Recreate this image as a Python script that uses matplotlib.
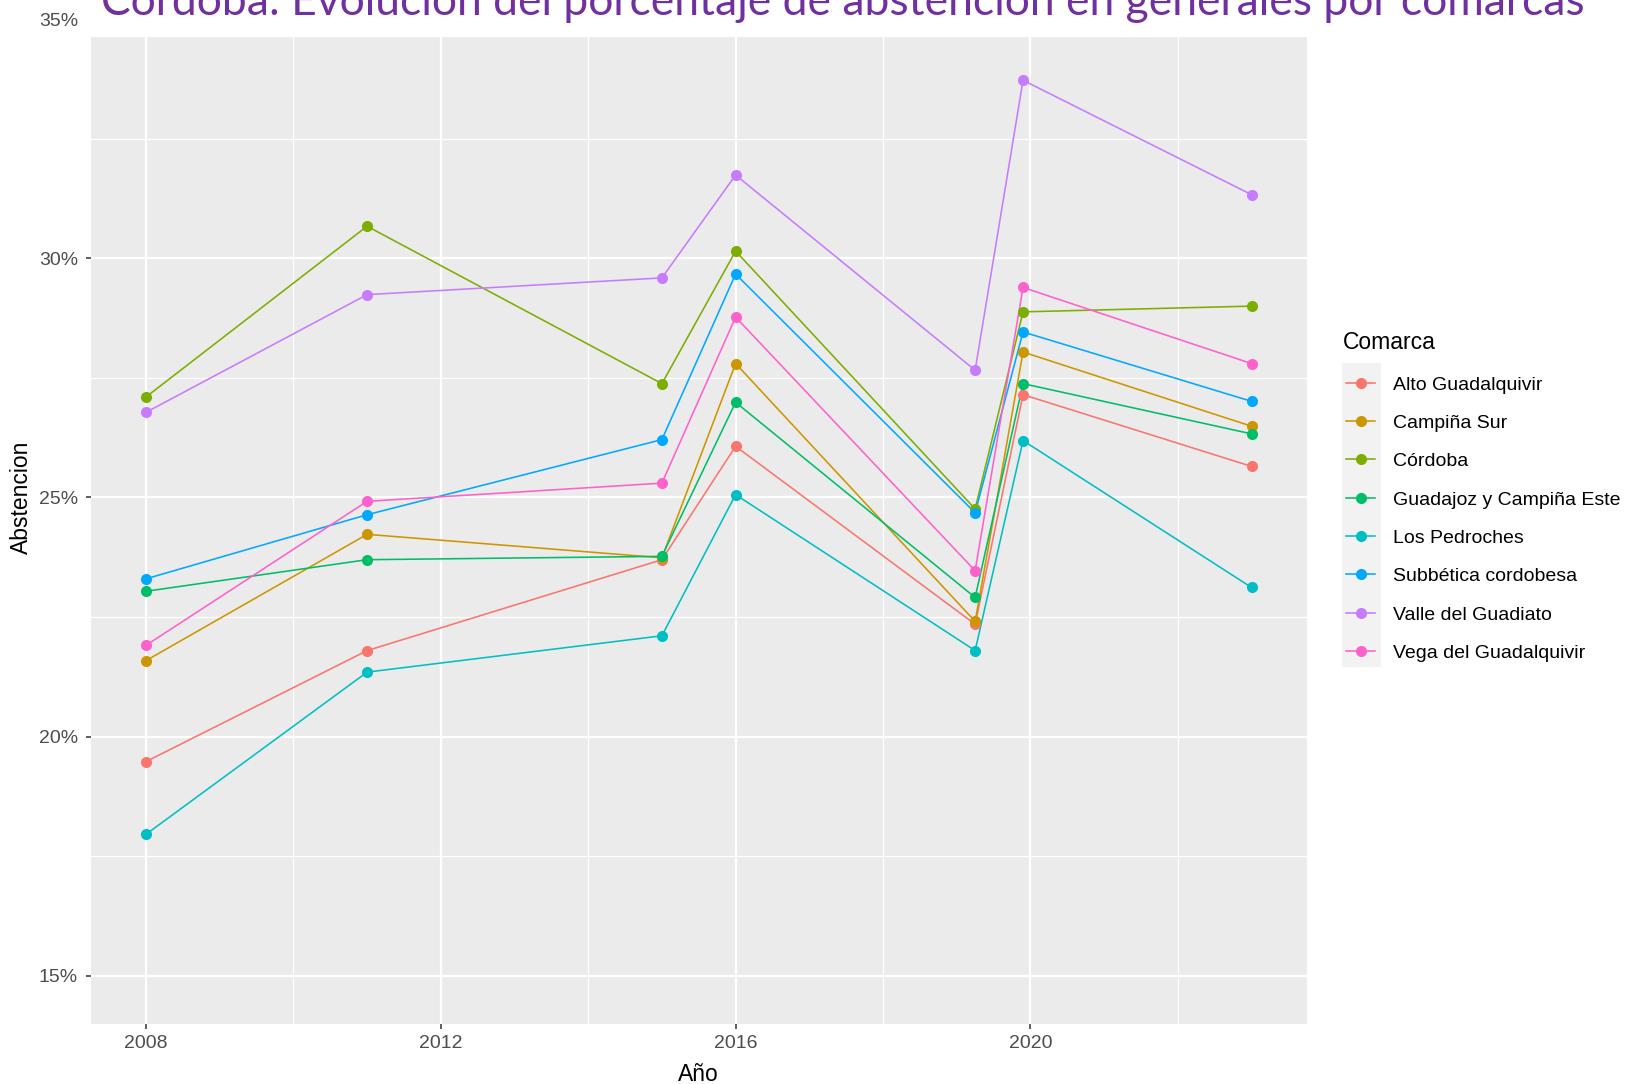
import matplotlib
matplotlib.use('Agg')
import matplotlib.pyplot as plt
import matplotlib.transforms as mtransforms
from matplotlib.lines import Line2D
from matplotlib.patches import Rectangle
from matplotlib.ticker import FuncFormatter, MultipleLocator

# datos (porcentaje de abstencion)
anios = [2008, 2011, 2015, 2016, 2019.25, 2019.9, 2023]
comarcas = ['Alto Guadalquivir', 'Campiña Sur', 'Córdoba', 'Guadajoz y Campiña Este',
            'Los Pedroches', 'Subbética cordobesa', 'Valle del Guadiato', 'Vega del Guadalquivir']
alto_guadalquivir = [19.48, 21.80, 23.70, 26.07, 22.35, 27.15, 25.65]
campina_sur = [21.59, 24.23, 23.74, 27.80, 22.41, 28.04, 26.49]
cordoba = [27.10, 30.67, 27.38, 30.15, 24.76, 28.88, 29.00]
guadajoz = [23.04, 23.70, 23.77, 26.99, 22.91, 27.38, 26.33]
los_pedroches = [17.96, 21.35, 22.11, 25.06, 21.80, 26.19, 23.12]
subbetica = [23.30, 24.64, 26.21, 29.67, 24.68, 28.46, 27.01]
valle_guadiato = [26.78, 29.24, 29.59, 31.74, 27.66, 33.72, 31.33]
vega_guadalquivir = [21.91, 24.92, 25.30, 28.77, 23.47, 29.39, 27.80]
series = [alto_guadalquivir, campina_sur, cordoba, guadajoz,
          los_pedroches, subbetica, valle_guadiato, vega_guadalquivir]
colores = ['#F8766D', '#CD9600', '#7CAE00', '#00BE67',
           '#00BFC4', '#00A9FF', '#C77CFF', '#FF61CC']

titulo = 'Córdoba: Evolución del porcentaje de abstención en generales por comarcas'

plt.rcParams['font.family'] = ['Liberation Sans', 'DejaVu Sans']

W, H = 1639, 1084


def fx(px):
    return px / W


def fy(py):
    return 1 - py / H


fig = plt.figure(figsize=(W / 100, H / 100), dpi=100)
ax = fig.add_axes([fx(90.7), fy(1023.8), fx(1306.8) - fx(90.7), fy(-28.8) - fy(1023.8)])
ax.set_facecolor('#EBEBEB')
for s in ax.spines.values():
    s.set_visible(False)

ax.set_xlim(2007.25, 2023.75)
ax.set_ylim(14, 36)
ax.xaxis.set_major_locator(MultipleLocator(4))
ax.xaxis.set_minor_locator(MultipleLocator(2))
ax.yaxis.set_major_locator(MultipleLocator(5))
ax.yaxis.set_minor_locator(MultipleLocator(2.5))
ax.yaxis.set_major_formatter(FuncFormatter(lambda v, p: '%d%%' % v))
ax.xaxis.set_major_formatter(FuncFormatter(lambda v, p: '%d' % v))
ax.grid(which='major', color='white', lw=1.6)
ax.grid(which='minor', color='white', lw=0.9)
ax.set_axisbelow(True)
ax.tick_params(which='minor', length=0)
ax.tick_params(which='major', length=3.6, width=1.1, color='#333333',
               labelcolor='#4D4D4D', labelsize=14)
ax.tick_params(axis='y', pad=5.5)
ax.tick_params(axis='x', pad=4.5)

for serie, c in zip(series, colores):
    ax.plot(anios, serie, color=c, lw=1.15, zorder=2)
for serie, c in zip(series, colores):
    ax.plot(anios, serie, 'o', color=c, ms=8, mew=0, zorder=3)

# etiquetas de ejes
ax.set_xlabel('Año', fontsize=16.5, color='black')
ax.xaxis.label.set_va('baseline')
ax.xaxis.set_label_coords(0.5, fy(1081),
                          transform=mtransforms.blended_transform_factory(ax.transAxes, fig.transFigure))
ax.set_ylabel('Abstencion', fontsize=16.5, color='black')
ax.yaxis.label.set_va('center')
ax.yaxis.set_label_coords(fx(21), 0.5,
                          transform=mtransforms.blended_transform_factory(fig.transFigure, ax.transAxes))

# leyenda
fig.text(fx(1343), fy(349), 'Comarca', fontsize=16.5, va='baseline', ha='left')
fig.add_artist(Rectangle((fx(1342), fy(667)), fx(1381) - fx(1342), fy(362.7) - fy(667),
                         transform=fig.transFigure, facecolor='#F2F2F2', edgecolor='none'))
for i, (nombre, c) in enumerate(zip(comarcas, colores)):
    yc = 382.7 + i * 38.3
    fig.add_artist(Line2D([fx(1345.7), fx(1375)], [fy(yc), fy(yc)], color=c, lw=1.15,
                          transform=fig.transFigure))
    fig.add_artist(Line2D([fx(1360.5)], [fy(yc)], marker='o', color=c, ms=8, mew=0,
                          transform=fig.transFigure))
    fig.text(fx(1392.7), fy(yc + 7), nombre, fontsize=14, va='baseline', ha='left')

# caja blanca del titulo que tapa la parte superior del panel
fig.add_artist(Rectangle((fx(80), fy(36.7)), 1 - fx(80), 36.7 / H,
                         transform=fig.transFigure, facecolor='white', edgecolor='none', zorder=5))
t = fig.text(fx(101), fy(15), titulo, color='#7030A0', fontsize=30,
             family=['Lato', 'DejaVu Sans'], va='baseline', ha='left', zorder=6)
fig.canvas.draw()
ancho = t.get_window_extent().width
t.set_fontsize(30 * 1482 / ancho)

fig.savefig('out.png', dpi=100)
